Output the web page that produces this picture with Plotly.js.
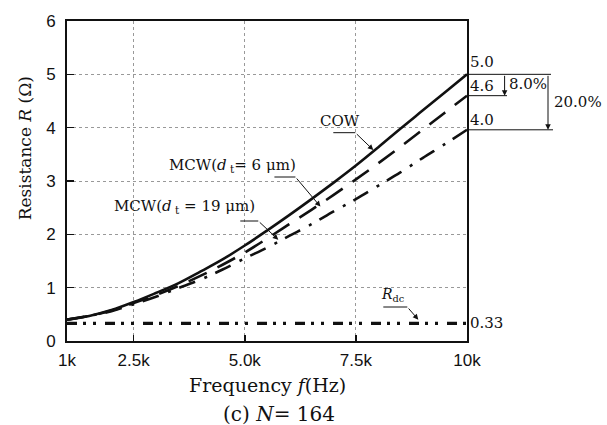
<!DOCTYPE html>
<html>
<head>
<meta charset="utf-8">
<script src="https://cdn.plot.ly/plotly-3.0.1.min.js"></script>
<style>html,body{margin:0;padding:0;background:#fff}#chart{width:607px;height:425px}</style>
</head>
<body>
<div id="chart"></div>
<script>
// ---- data ----
const freq = [1000,1500,2000,2500,3000,3500,4000,4500,5000,5500,6000,6500,7000,7500,8000,8500,9000,9500,10000];
const cow  = [0.40,0.47,0.58,0.73,0.90,1.08,1.30,1.53,1.79,2.07,2.36,2.66,2.97,3.29,3.63,3.98,4.32,4.66,5.00];
const mcw6 = [0.40,0.47,0.57,0.71,0.86,1.03,1.22,1.43,1.66,1.92,2.19,2.46,2.74,3.03,3.33,3.64,3.96,4.28,4.60];
const mcw19= [0.40,0.47,0.56,0.69,0.83,0.99,1.15,1.34,1.55,1.75,1.97,2.19,2.43,2.66,2.91,3.16,3.43,3.69,3.96];
const rdcFreq = [1000,10000];
const rdc = [0.33,0.33];
const xTickVals = [1000,2500,5000,7500,10000];
const xTickText = ['1k','2.5k','5.0k','7.5k','10k'];
const yTickVals = [0,1,2,3,4,5,6];

const serif = 'DejaVu Serif, serif';
const sans = 'Liberation Sans, Arial, sans-serif';
const black = '#111';

const traces = [
  {x:freq, y:cow, mode:'lines', line:{color:black,width:2.6,shape:'spline'}, name:'COW'},
  {x:freq, y:mcw6, mode:'lines', line:{color:black,width:2.6,dash:'20px,12px',shape:'spline'}, name:'MCW6'},
  {x:freq, y:mcw19, mode:'lines', line:{color:black,width:2.6,dash:'17px,10px,3px,9px',shape:'spline'}, name:'MCW19'},
  {x:rdcFreq, y:rdc, mode:'lines', line:{color:black,width:3.2,dash:'10px,6px,3px,7px,3px,9px'}, name:'Rdc'}
];

const endC = cow[cow.length-1], end6 = mcw6[mcw6.length-1], end19 = mcw19[mcw19.length-1];
const tf = {family:serif, size:15, color:black};

const shapes = [
  {type:'line', xref:'paper', yref:'y', x0:1, x1:1.21, y0:endC, y1:endC, line:{color:black,width:1}},
  {type:'line', xref:'paper', yref:'y', x0:1, x1:1.10, y0:end6, y1:end6, line:{color:black,width:1}},
  {type:'line', xref:'paper', yref:'y', x0:1, x1:1.215, y0:end19, y1:end19, line:{color:black,width:1}},
  {type:'line', xref:'x', yref:'y', x0:6992, x1:7487, y0:3.906, y1:3.906, line:{color:black,width:1}},
  {type:'line', xref:'x', yref:'y', x0:5667, x1:6140, y0:3.075, y1:3.075, line:{color:black,width:1}},
  {type:'line', xref:'x', yref:'y', x0:4899, x1:5304, y0:2.25, y1:2.25, line:{color:black,width:1}},
  {type:'line', xref:'x', yref:'y', x0:8117, x1:8657, y0:0.6375, y1:0.6375, line:{color:black,width:1}}
];

function leader(x0,y0,x1,y1){
  return {x:x1, y:y1, ax:x0, ay:y0, xref:'x', yref:'y', axref:'x', ayref:'y', text:'', showarrow:true,
          arrowhead:2, arrowsize:1.1, arrowwidth:1, arrowcolor:black};
}

const annotations = [
  leader(7487,3.906,7892,3.581),
  leader(6140,3.075,6702,2.52),
  leader(5304,2.25,5754,1.90),
  leader(8657,0.6375,8905,0.40),
  {x:7150, y:4.0, xref:'x', yref:'y', text:'COW', showarrow:false, font:tf, xanchor:'center', yanchor:'bottom', yshift:-4},
  {x:(167-66.7)/400, y:3.30, xref:'paper', yref:'y', text:'MCW(<i>d</i><sub> t</sub>= 6 μm)', showarrow:false, font:tf, xanchor:'left', yanchor:'middle'},
  {x:(112-66.7)/400, y:2.52, xref:'paper', yref:'y', text:'MCW(<i>d</i><sub> t</sub> = 19 μm)', showarrow:false, font:tf, xanchor:'left', yanchor:'middle'},
  {x:8342, y:0.66, xref:'x', yref:'y', text:'<i>R</i><sub>dc</sub>', showarrow:false, font:{family:serif,size:14,color:black}, xanchor:'center', yanchor:'bottom'},
  {x:1.003, y:endC, xref:'paper', yref:'y', text:endC.toFixed(1), showarrow:false, font:tf, xanchor:'left', yanchor:'bottom', yshift:1},
  {x:1.003, y:end6, xref:'paper', yref:'y', text:end6.toFixed(1), showarrow:false, font:tf, xanchor:'left', yanchor:'bottom', yshift:-1},
  {x:1.003, y:end19, xref:'paper', yref:'y', text:end19.toFixed(1), showarrow:false, font:tf, xanchor:'left', yanchor:'bottom', yshift:-1},
  {x:1.003, y:rdc[1], xref:'paper', yref:'y', text:rdc[1].toFixed(2), showarrow:false, font:tf, xanchor:'left', yanchor:'middle'},
  {x:1.094, y:end6, xref:'paper', yref:'y', ax:0, ay:endC, axref:'pixel', ayref:'y', text:'', showarrow:true, arrowhead:2, arrowsize:1.1, arrowwidth:1, arrowcolor:black},
  {x:1.2025, y:end19, xref:'paper', yref:'y', ax:0, ay:endC, axref:'pixel', ayref:'y', text:'', showarrow:true, arrowhead:2, arrowsize:1.1, arrowwidth:1, arrowcolor:black},
  {x:1.101, y:(endC+end6)/2 + 0.02, xref:'paper', yref:'y', text:'8.0%', showarrow:false, font:tf, xanchor:'left', yanchor:'middle'},
  {x:1.213, y:4.48, xref:'paper', yref:'y', text:'20.0%', showarrow:false, font:tf, xanchor:'left', yanchor:'middle'},
  {x:(25-66.7)/400, y:(341-148)/320, xref:'paper', yref:'paper', text:'Resistance <i>R</i> (Ω)', textangle:-90, showarrow:false, font:{family:serif,size:17,color:black}, xanchor:'center', yanchor:'middle'},
  {x:0.5, y:-(385-341)/320, xref:'paper', yref:'paper', text:'Frequency <i>f</i>(Hz)', showarrow:false, font:{family:serif,size:19,color:black}, xanchor:'center', yanchor:'middle'},
  {x:(279-66.7)/400, y:-(414-341)/320, xref:'paper', yref:'paper', text:'(c) <i>N</i>= 164', showarrow:false, font:{family:serif,size:20,color:black}, xanchor:'center', yanchor:'middle'}
];

const layout = {
  width:607, height:425,
  margin:{l:67, r:140, t:21, b:84},
  paper_bgcolor:'#fff', plot_bgcolor:'#fff',
  showlegend:false,
  xaxis:{range:[1000,10000], tickvals:xTickVals, ticktext:xTickText, ticks:'inside', ticklen:6, tickwidth:1.5, tickcolor:black,
         showgrid:true, gridcolor:'#999', griddash:'dot', gridwidth:1, zeroline:false,
         showline:true, linecolor:black, linewidth:2, mirror:true,
         tickfont:{family:sans,size:17,color:black}, ticklabelstandoff:3},
  yaxis:{range:[0,6], tickvals:yTickVals, ticks:'inside', ticklen:7, tickwidth:1.5, tickcolor:black,
         showgrid:true, gridcolor:'#999', griddash:'dot', gridwidth:1, zeroline:false,
         showline:true, linecolor:black, linewidth:2, mirror:true,
         tickfont:{family:sans,size:17,color:black}, ticklabelstandoff:6},
  shapes:shapes,
  annotations:annotations
};

Plotly.newPlot('chart', traces, layout, {staticPlot:true, displayModeBar:false});
</script>
</body>
</html>
